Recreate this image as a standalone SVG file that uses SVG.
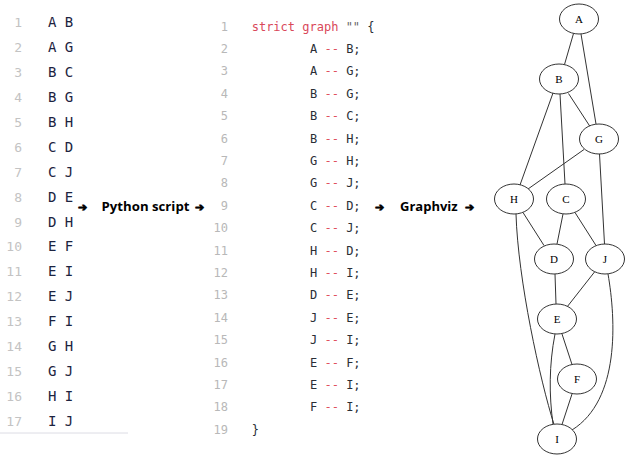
<svg xmlns="http://www.w3.org/2000/svg" width="644" height="470" viewBox="0 0 644 470">
<style>
.ln{font-family:"DejaVu Sans Mono","Liberation Mono",monospace;font-size:13px;fill:#c3c3c3;text-anchor:end}
.pr{font-family:"DejaVu Sans Mono","Liberation Mono",monospace;font-size:14px;fill:#1c2340}
.cln{font-family:"DejaVu Sans Mono","Liberation Mono",monospace;font-size:12px;fill:#b8b8b8;text-anchor:end}
.code{font-family:"DejaVu Sans Mono","Liberation Mono",monospace;font-size:12px;fill:#2a2e36}
.kw{fill:#d9485a}
.op{fill:#e0505f}
.str{fill:#666}
.lbl{font-family:"Open Sans","Liberation Sans",sans-serif;font-size:13px;font-weight:700;fill:#000}
.arr{font-family:"DejaVu Sans",sans-serif;font-size:11px;fill:#000;stroke:#000;stroke-width:0.8;stroke-linejoin:round}
.node ellipse{fill:#fff;stroke:#333;stroke-width:1}
.node text{font-family:"Liberation Serif","Times New Roman",serif;font-size:11px;fill:#000;text-anchor:middle}
.edges path{fill:none;stroke:#333;stroke-width:1}
</style>

<g id="pairs">
<text class="ln" x="22" y="27.3">1</text><text class="pr" x="48" y="27.3">A B</text>
<text class="ln" x="22" y="52.2">2</text><text class="pr" x="48" y="52.2">A G</text>
<text class="ln" x="22" y="77.1">3</text><text class="pr" x="48" y="77.1">B C</text>
<text class="ln" x="22" y="102">4</text><text class="pr" x="48" y="102">B G</text>
<text class="ln" x="22" y="126.9">5</text><text class="pr" x="48" y="126.9">B H</text>
<text class="ln" x="22" y="151.8">6</text><text class="pr" x="48" y="151.8">C D</text>
<text class="ln" x="22" y="176.7">7</text><text class="pr" x="48" y="176.7">C J</text>
<text class="ln" x="22" y="201.6">8</text><text class="pr" x="48" y="201.6">D E</text>
<text class="ln" x="22" y="226.5">9</text><text class="pr" x="48" y="226.5">D H</text>
<text class="ln" x="22" y="251.4">10</text><text class="pr" x="48" y="251.4">E F</text>
<text class="ln" x="22" y="276.3">11</text><text class="pr" x="48" y="276.3">E I</text>
<text class="ln" x="22" y="301.2">12</text><text class="pr" x="48" y="301.2">E J</text>
<text class="ln" x="22" y="326.1">13</text><text class="pr" x="48" y="326.1">F I</text>
<text class="ln" x="22" y="351">14</text><text class="pr" x="48" y="351">G H</text>
<text class="ln" x="22" y="375.9">15</text><text class="pr" x="48" y="375.9">G J</text>
<text class="ln" x="22" y="400.8">16</text><text class="pr" x="48" y="400.8">H I</text>
<text class="ln" x="22" y="425.7">17</text><text class="pr" x="48" y="425.7">I J</text>
<line x1="0" y1="433" x2="128" y2="433" stroke="#dcdce4" stroke-width="1"/>
</g>

<g id="step1">
<text class="arr" x="78" y="211">➔</text>
<text class="lbl" x="101.5" y="211" textLength="88" lengthAdjust="spacingAndGlyphs">Python script</text>
<text class="arr" x="195" y="211">➔</text>
</g>

<g id="code" xml:space="preserve">
<text class="cln" x="228" y="30.5">1</text><text class="code" x="251.7" y="30.5"><tspan class="kw">strict graph</tspan> <tspan class="str">""</tspan> {</text>
<text class="cln" x="228" y="52.9">2</text><text class="code" x="310" y="52.9">A <tspan class="op">--</tspan> B;</text>
<text class="cln" x="228" y="75.3">3</text><text class="code" x="310" y="75.3">A <tspan class="op">--</tspan> G;</text>
<text class="cln" x="228" y="97.7">4</text><text class="code" x="310" y="97.7">B <tspan class="op">--</tspan> G;</text>
<text class="cln" x="228" y="120.1">5</text><text class="code" x="310" y="120.1">B <tspan class="op">--</tspan> C;</text>
<text class="cln" x="228" y="142.5">6</text><text class="code" x="310" y="142.5">B <tspan class="op">--</tspan> H;</text>
<text class="cln" x="228" y="164.9">7</text><text class="code" x="310" y="164.9">G <tspan class="op">--</tspan> H;</text>
<text class="cln" x="228" y="187.3">8</text><text class="code" x="310" y="187.3">G <tspan class="op">--</tspan> J;</text>
<text class="cln" x="228" y="209.7">9</text><text class="code" x="310" y="209.7">C <tspan class="op">--</tspan> D;</text>
<text class="cln" x="228" y="232.1">10</text><text class="code" x="310" y="232.1">C <tspan class="op">--</tspan> J;</text>
<text class="cln" x="228" y="254.5">11</text><text class="code" x="310" y="254.5">H <tspan class="op">--</tspan> D;</text>
<text class="cln" x="228" y="276.9">12</text><text class="code" x="310" y="276.9">H <tspan class="op">--</tspan> I;</text>
<text class="cln" x="228" y="299.3">13</text><text class="code" x="310" y="299.3">D <tspan class="op">--</tspan> E;</text>
<text class="cln" x="228" y="321.7">14</text><text class="code" x="310" y="321.7">J <tspan class="op">--</tspan> E;</text>
<text class="cln" x="228" y="344.1">15</text><text class="code" x="310" y="344.1">J <tspan class="op">--</tspan> I;</text>
<text class="cln" x="228" y="366.5">16</text><text class="code" x="310" y="366.5">E <tspan class="op">--</tspan> F;</text>
<text class="cln" x="228" y="388.9">17</text><text class="code" x="310" y="388.9">E <tspan class="op">--</tspan> I;</text>
<text class="cln" x="228" y="411.3">18</text><text class="code" x="310" y="411.3">F <tspan class="op">--</tspan> I;</text>
<text class="cln" x="228" y="433.7">19</text><text class="code" x="251.7" y="433.7">}</text>
</g>

<g id="step2">
<text class="arr" x="375" y="211">➔</text>
<text class="lbl" x="400" y="211">Graphviz</text>
<text class="arr" x="465" y="211">➔</text>
</g>

<g class="edges" id="connectors">
<path d="M573.5,33.5 L564.5,64.5"/>
<path d="M581,34 L596,124"/>
<path d="M568.5,93.5 L590,126.5"/>
<path d="M560,94 L565,184"/>
<path d="M553,93 L520,185"/>
<path d="M584,149.5 L528,189"/>
<path d="M599.5,154 L604.5,244"/>
<path d="M523,212.5 L544,245.5"/>
<path d="M563,214 L557,244"/>
<path d="M575,212.5 L596,245.5"/>
<path d="M555,274 L556,304"/>
<path d="M594.5,272 L567,307"/>
<path d="M562,334 L572,364.5"/>
<path d="M572,394 L562,424.5"/>
<path d="M516,214 C518,280 540,380 554,424.5"/>
<path d="M555,334 C549,365 549,395 553,424"/>
<path d="M608,274 C616,320 620,400 572,430"/>
</g>

<g id="node-A" class="node"><ellipse cx="579" cy="19" rx="19.5" ry="15"/><text x="579" y="23">A</text></g>
<g id="node-B" class="node"><ellipse cx="559" cy="79" rx="19.5" ry="15"/><text x="559" y="83">B</text></g>
<g id="node-G" class="node"><ellipse cx="599" cy="139" rx="19.5" ry="15"/><text x="599" y="143">G</text></g>
<g id="node-H" class="node"><ellipse cx="514" cy="199" rx="19.5" ry="15"/><text x="514" y="203">H</text></g>
<g id="node-C" class="node"><ellipse cx="566" cy="199" rx="19.5" ry="15"/><text x="566" y="203">C</text></g>
<g id="node-D" class="node"><ellipse cx="554" cy="259" rx="19.5" ry="15"/><text x="554" y="263">D</text></g>
<g id="node-J" class="node"><ellipse cx="605" cy="259" rx="19.5" ry="15"/><text x="605" y="263">J</text></g>
<g id="node-E" class="node"><ellipse cx="557" cy="319" rx="19.5" ry="15"/><text x="557" y="323">E</text></g>
<g id="node-F" class="node"><ellipse cx="577" cy="379" rx="19.5" ry="15"/><text x="577" y="383">F</text></g>
<g id="node-I" class="node"><ellipse cx="557" cy="439" rx="19.5" ry="15"/><text x="557" y="443">I</text></g>
</svg>
